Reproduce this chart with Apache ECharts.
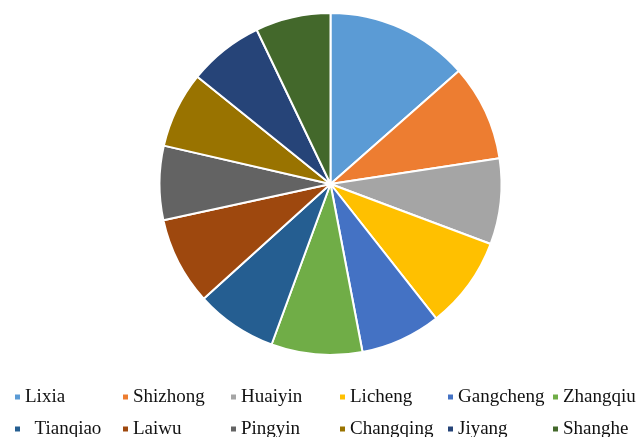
<!DOCTYPE html>
<html>
<head>
<meta charset="utf-8">
<script src="https://cdn.jsdelivr.net/npm/echarts@6/dist/echarts.min.js"></script>
<style>
  html, body { margin: 0; padding: 0; background: #fff; }
  #chart { width: 641px; height: 437px; }
</style>
</head>
<body>
<div id="chart"></div>
<script>
// District names, in drawing order (clockwise from 12 o'clock)
const districts = ['Lixia', 'Shizhong', 'Huaiyin', 'Licheng', 'Gangcheng', 'Zhangqiu',
                   'Tianqiao', 'Laiwu', 'Pingyin', 'Changqing', 'Jiyang', 'Shanghe'];
// Share of each district (%)
const shares = [13.5, 9.1, 8.1, 8.7, 7.6, 8.6, 7.7, 8.3, 7.0, 7.2, 7.1, 7.1];
// Slice colours
const palette = ['#5B9BD5', '#ED7D31', '#A5A5A5', '#FFC000', '#4472C4', '#70AD47',
                 '#255E91', '#9E480E', '#636363', '#997300', '#264478', '#43682B'];

const chart = echarts.init(document.getElementById('chart'));

// Legend: six columns, two rows, one legend component per entry
const columnLeft = [13, 121, 229, 338, 446, 551];
const rowTop = [387, 419];
const legends = districts.map((name, i) => ({
  left: columnLeft[i % 6],
  top: rowTop[Math.floor(i / 6)],
  padding: 0,
  itemWidth: 7,
  itemHeight: 7,
  itemGap: 0,
  icon: 'rect',
  data: [name],
  formatter: n => (n === 'Tianqiao' ? '  ' + n : n),
  textStyle: {
    fontFamily: 'Liberation Serif, Times New Roman, serif',
    fontSize: 19,
    lineHeight: 20,
    color: '#111',
    padding: [0, 0, 0, -1]
  }
}));

chart.setOption({
  animation: false,
  color: palette,
  legend: legends,
  series: [{
    type: 'pie',
    center: [330.5, 184],
    radius: 171,
    startAngle: 90,
    clockwise: true,
    label: { show: false },
    labelLine: { show: false },
    itemStyle: { borderColor: '#fff', borderWidth: 2 },
    data: districts.map((name, i) => ({ name: name, value: shares[i] }))
  }]
});
</script>
</body>
</html>
